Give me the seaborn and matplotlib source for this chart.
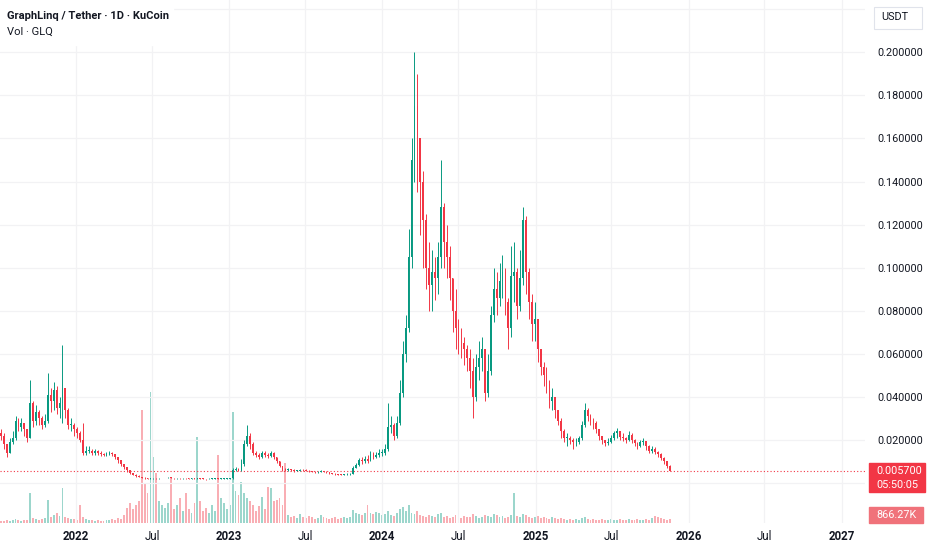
import matplotlib
matplotlib.use("Agg")
import matplotlib.pyplot as plt
from matplotlib.patches import Rectangle
import seaborn as sns
import numpy as np
import pandas as pd

# weekly candles, prices in 0.001 USDT
first_week = "2021-07-05"
first_open = 23

closes = [22, 18, 14, 19, 21, 29, 26, 28, 25, 21,
          37, 29, 33, 30, 27, 29, 41, 38, 43, 35,
          37, 44, 34, 27, 27, 25, 23, 20, 14, 15,
          15, 14, 15, 14, 13.5, 13, 13.5, 14, 13.5, 12,
          10.5, 9, 7.5, 6, 4.6, 3.9, 3.4, 2.9, 2.5, 2.1,
          2.0, 2.1, 2.2, 2.1, 2.2, 2.3, 2.3, 2.5, 2.4, 2.2,
          2.2, 2.1, 2.2, 2.1, 2.0, 2.1, 2.0, 2.1, 2.0, 1.9,
          1.8, 1.9, 2.0, 2.0, 1.9, 2.0, 2.0, 2.0, 2.1, 6.0,
          6.5, 6.2, 9, 18, 22, 18, 14, 13, 12, 14,
          13, 12.5, 14, 12, 10, 8, 6.2, 5.9, 6.3, 6.0,
          5.7, 5.8, 6.2, 6.0, 5.8, 5.6, 5.2, 4.9, 5.0, 5.5,
          5.3, 4.9, 4.6, 4.4, 4.2, 3.9, 3.8, 4.0, 4.1, 4.3,
          7.0, 8.5, 10.5, 10, 11, 10, 13.5, 12, 13, 14,
          14, 16, 26, 27, 22, 28, 42, 60, 72, 105,
          150, 175, 160, 140, 122, 100, 92, 98, 95, 105,
          128, 112, 105, 95, 80, 72, 66, 65, 62, 58,
          52, 40, 54, 58, 62, 42, 52, 78, 90, 86,
          94, 98, 84, 72, 96, 98, 82, 95, 122, 98,
          84, 74, 76, 62, 54, 50, 46, 38, 40, 34,
          29, 24, 21, 21, 20, 19, 19, 21, 27, 34,
          31, 29, 28, 25, 22, 20, 18.5, 19, 21, 23,
          24, 21.5, 21, 20, 22.5, 20, 18.5, 17, 19, 19.5,
          17, 15, 16, 14.5, 13.5, 11.5, 10, 8, 5.7]

highs = [25, 23, 18, 21, 24, 31, 30, 30, 28, 25,
         48, 38, 36, 34, 31, 32, 51, 44, 47, 45,
         40, 64, 44, 35, 30, 28, 26, 24, 28, 17,
         17, 16, 16, 15.5, 15, 14, 14.5, 15, 14.5, 13.5,
         12, 10.5, 9, 7.5, 6, 4.8, 4, 3.5, 3, 2.6,
         2.3, 2.4, 2.4, 2.3, 2.4, 2.5, 2.5, 2.8, 2.6, 2.5,
         2.4, 2.3, 2.4, 2.3, 2.2, 2.3, 2.2, 2.3, 2.2, 2.1,
         2.0, 2.1, 2.2, 2.2, 2.1, 2.2, 2.2, 2.2, 2.3, 7,
         7.5, 7.2, 11, 20, 27, 23, 19, 15, 14, 15,
         15, 14, 15, 14.5, 12, 10, 8, 7, 6.8, 6.6,
         6.3, 6.2, 6.6, 6.5, 6.3, 6.1, 5.8, 5.4, 5.5, 5.9,
         5.8, 5.4, 5.1, 4.8, 4.6, 4.3, 4.2, 4.4, 4.5, 4.8,
         8, 9.5, 11.5, 12, 12.5, 13, 15, 14.5, 14.5, 16,
         16, 18, 37, 31, 28, 31, 48, 66, 78, 118,
         160, 200, 190, 160, 145, 125, 112, 108, 105, 112,
         150, 130, 120, 110, 95, 90, 76, 72, 68, 64,
         62, 58, 60, 66, 68, 60, 60, 82, 100, 98,
         102, 106, 100, 86, 110, 112, 100, 108, 128, 124,
         100, 88, 84, 76, 62, 56, 54, 48, 44, 40,
         34, 30, 25, 23, 22, 21, 21, 22, 29, 37,
         35, 32, 30, 29, 25, 22, 20, 21, 22.5, 24,
         25.5, 24, 23, 21.5, 24, 23, 20.5, 19, 20, 21,
         19.5, 17.5, 17, 16.5, 15, 14, 12, 10, 8.2]

lows = [20, 16, 12, 14, 18, 20, 24, 24, 22, 19,
        21, 26, 27, 27, 25, 26, 28, 33, 34, 32,
        30, 28, 30, 25, 24, 22, 21, 19, 13, 13,
        14, 13, 13, 13, 12.5, 12.5, 12.5, 13, 12.5, 11,
        9.5, 8, 6.5, 5, 4, 3.5, 3, 2.6, 2.2, 1.8,
        1.7, 1.8, 2.0, 1.9, 2.0, 2.1, 2.1, 2.2, 2.2, 2.0,
        2.0, 1.9, 2.0, 1.9, 1.8, 1.9, 1.8, 1.9, 1.8, 1.7,
        1.6, 1.7, 1.8, 1.8, 1.7, 1.8, 1.8, 1.9, 1.9, 2.0,
        5.5, 5.5, 5.8, 8, 17, 16, 13, 12, 11, 11.5,
        12, 11.5, 12, 11, 9.5, 7.5, 5.5, 5.6, 5.8, 5.6,
        5.3, 5.4, 5.6, 5.6, 5.4, 5.2, 4.9, 4.5, 4.6, 5.0,
        5.0, 4.6, 4.3, 4.1, 3.9, 3.6, 3.5, 3.7, 3.8, 3.9,
        4.2, 6.8, 8, 9, 9.5, 9.5, 10, 11, 11.5, 12,
        12.5, 13, 15, 23, 20, 21, 27, 40, 56, 70,
        100, 140, 135, 115, 100, 90, 80, 80, 85, 88,
        100, 100, 95, 85, 70, 62, 60, 58, 55, 52,
        44, 30, 38, 48, 52, 38, 40, 50, 75, 78,
        82, 86, 78, 62, 68, 84, 76, 80, 92, 88,
        76, 66, 66, 56, 50, 45, 42, 35, 34, 30,
        27, 21, 19, 17, 18, 16, 17, 18, 20, 26,
        29, 27, 25, 23, 20, 18, 17, 17.5, 18.5, 20,
        21, 20, 19.5, 18.5, 19.5, 18.5, 17, 16, 16.5, 17.5,
        15.5, 14, 14, 13.5, 12, 10.5, 9, 7, 5.5]

# weekly volume, in units of ~0.22M GLQ
volumes = [2, 2, 3, 2, 3, 4, 3, 2, 3, 3,
           30, 5, 4, 3, 4, 5, 23, 6, 8, 10,
           7, 35, 6, 5, 4, 4, 3, 18, 6, 4,
           3, 3, 2, 3, 2, 2, 3, 3, 4, 3,
           5, 4, 8, 15, 20, 14, 18, 22, 113, 40,
           30, 131, 66, 50, 22, 18, 15, 20, 45, 14,
           18, 25, 12, 30, 14, 10, 20, 86, 22, 12,
           15, 10, 18, 12, 68, 25, 20, 14, 18, 111,
           32, 28, 41, 30, 25, 22, 18, 12, 17, 26,
           14, 36, 35, 22, 23, 25, 18, 60, 8, 6,
           7, 5, 9, 6, 5, 7, 6, 4, 5, 8,
           6, 5, 4, 5, 6, 4, 5, 6, 5, 6,
           13, 10, 9, 8, 10, 18, 10, 9, 11, 10,
           8, 9, 12, 8, 7, 10, 14, 16, 12, 18,
           10, 9, 12, 8, 7, 6, 8, 7, 6, 9,
           10, 6, 7, 5, 6, 8, 6, 5, 7, 6,
           6, 9, 7, 5, 6, 8, 7, 6, 9, 8,
           6, 7, 5, 6, 8, 30, 7, 6, 9, 8,
           6, 5, 6, 7, 5, 6, 5, 4, 6, 5,
           4, 5, 4, 3, 4, 3, 4, 3, 5, 6,
           4, 3, 4, 3, 3, 4, 3, 3, 4, 3,
           3, 4, 3, 3, 4, 3, 3, 4, 3, 3,
           4, 3, 5, 7, 6, 5, 4, 3, 4]

last_price = 0.0057
last_price_text = "0.005700"
countdown_text = "05:50:05"
last_volume_text = "866.27K"
title_text = "GraphLinq / Tether · 1D · KuCoin"
subtitle_text = "Vol · GLQ"
quote_text = "USDT"
price_ticks = [0.0, 0.02, 0.04, 0.06, 0.08, 0.10, 0.12, 0.14, 0.16, 0.18, 0.20, 0.22]
time_ticks = ["2022-01-01", "2022-07-01", "2023-01-01", "2023-07-01", "2024-01-01", "2024-07-01",
              "2025-01-01", "2025-07-01", "2026-01-01", "2026-07-01", "2027-01-01"]
time_labels = ["2022", "Jul", "2023", "Jul", "2024", "Jul", "2025", "Jul", "2026", "Jul", "2027"]

GREEN = "#089981"
RED = "#F23645"
TEXT = "#131722"
GRID = "#f2f2f4"

assert len(closes) == len(highs) == len(lows) == len(volumes)

df = pd.DataFrame({
    "date": pd.date_range(first_week, periods=len(closes), freq="7D"),
    "close": np.array(closes) / 1000,
    "high": np.array(highs) / 1000,
    "low": np.array(lows) / 1000,
    "volume": volumes,
})
df["open"] = df["close"].shift(1).fillna(first_open / 1000)
df["high"] = df[["high", "open", "close"]].max(axis=1)
df["low"] = df[["low", "open", "close"]].min(axis=1)
df["up"] = df["close"] >= df["open"]
colors = np.where(df["up"], GREEN, RED)

sns.set_theme(style="white")
plt.rcParams["font.family"] = ["Roboto", "DejaVu Sans"]

W, H = 932, 550
fig = plt.figure(figsize=(W / 100, H / 100), dpi=100)
ax = fig.add_axes([0, 27 / H, 865 / W, 523 / H])
axv = ax.twinx()
ax.set_zorder(axv.get_zorder() + 1)
ax.patch.set_visible(False)

# volume underlay
axv.bar(df["date"], df["volume"], width=4.5, color=colors, alpha=0.4, linewidth=0)
axv.set_ylim(0, max(volumes) * 523 / 131)
axv.set_yticks([])
axv.grid(False)

# candles
ax.vlines(df["date"], df["low"], df["high"], colors=colors, lw=0.7, zorder=3)
body_lo = df[["open", "close"]].min(axis=1)
body_h = (df["close"] - df["open"]).abs().clip(lower=0.0002)
ax.bar(df["date"], body_h, bottom=body_lo, width=4.2, color=colors, linewidth=0, zorder=4)

ax.axhline(last_price, color=RED, lw=0.8, ls=(0, (1, 2)), zorder=2)

ax.set_xlim(pd.Timestamp("2021-07-03"), pd.Timestamp("2027-02-26"))
ax.set_ylim(-0.01857, 0.2243)

ax.set_xticks(pd.to_datetime(time_ticks))
ax.set_xticklabels(time_labels)
for lab in ax.get_xticklabels():
    if lab.get_text() != "Jul":
        lab.set_fontweight("bold")
ax.set_yticks(price_ticks)
ax.set_yticklabels(["" if t in (0.0, 0.22) else f"{t:.6f}" for t in price_ticks])
ax.yaxis.tick_right()
ax.tick_params(axis="y", length=0, pad=9, labelsize=7.8, labelcolor=TEXT)
ax.tick_params(axis="x", length=0, pad=5, labelsize=8.3, labelcolor=TEXT)
ax.grid(True, color=GRID, lw=0.9)
for a in (ax, axv):
    for s in a.spines.values():
        s.set_visible(False)

# legend block top-left
fig.add_artist(Rectangle((0, 1 - 45 / H), 173 / W, 45 / H, transform=fig.transFigure,
                         color="white", zorder=5))
fig.text(7 / W, 1 - 16 / H, title_text, fontsize=8, fontweight="bold", color=TEXT,
         va="center", ha="left", zorder=6)
fig.text(7 / W, 1 - 32 / H, subtitle_text, fontsize=8, color=TEXT, va="center", ha="left", zorder=6)

# quote currency box
fig.add_artist(Rectangle((874 / W, 1 - 29 / H), 48 / W, 22 / H, transform=fig.transFigure,
                         facecolor="white", edgecolor="#e0e3eb", lw=0.8))
fig.text(881 / W, 1 - 17 / H, quote_text, fontsize=7.8, color=TEXT, va="center", ha="left")

# last price / countdown label
fig.add_artist(Rectangle((869 / W, 1 - 492 / H), 56 / W, 29 / H, transform=fig.transFigure,
                         color=RED))
fig.text(876 / W, 1 - 471 / H, last_price_text, fontsize=7.8, color="white", va="center", ha="left")
fig.text(876 / W, 1 - 485 / H, countdown_text, fontsize=7.8, color="white", va="center", ha="left")

# last volume label
fig.add_artist(Rectangle((869 / W, 1 - 523 / H), 54 / W, 16 / H, transform=fig.transFigure,
                         color="#f0727a"))
fig.text(876 / W, 1 - 515 / H, last_volume_text, fontsize=7.8, color="white", va="center", ha="left")

fig.savefig("out.png", dpi=100)
